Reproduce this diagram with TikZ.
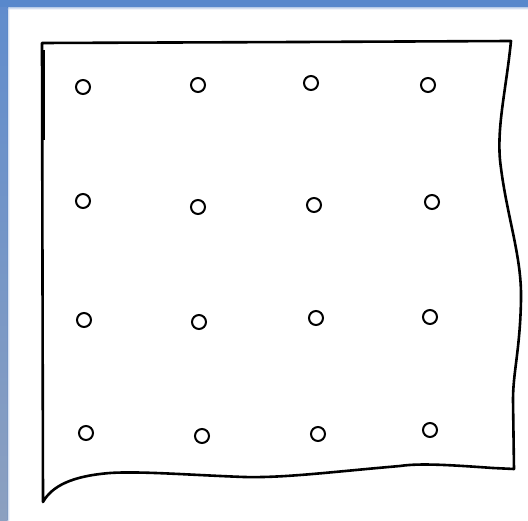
\documentclass[tikz,border=0pt]{standalone}
\definecolor{frametop}{RGB}{88,136,204}
\definecolor{frameleft}{RGB}{96,140,205}
\definecolor{framelow}{RGB}{140,160,192}
\begin{document}
\begin{tikzpicture}[x=1pt,y=-1pt,
  hole/.style={draw, line width=2pt, circle, minimum size=14pt, inner sep=0pt},
  sheet/.style={line width=2.6pt, line join=round, line cap=round}]
\useasboundingbox (0,0) rectangle (528,521);
\fill[white] (0,0) rectangle (528,521);
% frame bands
\shade[top color=frameleft, bottom color=framelow] (0,0) rectangle (7.5,521);
\fill[frametop] (0,0) rectangle (528,7.5);
\shade[top color=frametop, bottom color=white, opacity=0.35] (7.5,7.5) rectangle (528,9.5);
\shade[left color=frameleft, right color=white, opacity=0.35] (7.5,7.5) rectangle (9.5,521);
% sheet outline
\draw[sheet] (42,43) -- (300,42) -- (511,41)
  .. controls (506,90) and (497,125) .. (500,160)
  .. controls (506,215) and (522,255) .. (521,300)
  .. controls (520,350) and (513,372) .. (513,400)
  -- (514,469)
  -- (493,468)
  .. controls (450,465) and (420,463) .. (400,466)
  .. controls (330,472) and (285,478) .. (244,477)
  .. controls (190,475) and (140,471) .. (110,473)
  .. controls (72,476) and (52,486) .. (43,502)
  -- cycle;
\draw[line width=1.4pt] (44,50) -- (44,140);
% holes
\node[hole] (h11) at (83,87) {};
\node[hole] (h12) at (198,85) {};
\node[hole] (h13) at (311,83) {};
\node[hole] (h14) at (428,85) {};
\node[hole] (h21) at (83,201) {};
\node[hole] (h22) at (198,207) {};
\node[hole] (h23) at (314,205) {};
\node[hole] (h24) at (432,202) {};
\node[hole] (h31) at (84,320) {};
\node[hole] (h32) at (199,322) {};
\node[hole] (h33) at (316,318) {};
\node[hole] (h34) at (430,317) {};
\node[hole] (h41) at (86,433) {};
\node[hole] (h42) at (202,436) {};
\node[hole] (h43) at (318,434) {};
\node[hole] (h44) at (430,430) {};
\end{tikzpicture}
\end{document}
